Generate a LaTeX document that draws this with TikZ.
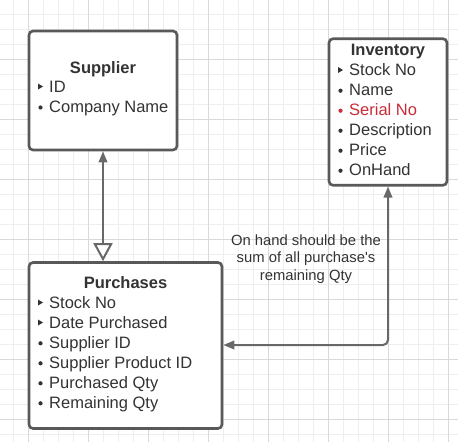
\documentclass[tikz,border=0pt]{standalone}
\usepackage{fontspec}
\setmainfont{Liberation Sans}
\usetikzlibrary{arrows.meta}
\definecolor{boxline}{HTML}{595959}
\definecolor{arrline}{HTML}{686868}
\definecolor{txt}{HTML}{333333}
\definecolor{redtxt}{HTML}{C92D39}
\definecolor{gridminor}{HTML}{EEEEEE}
\definecolor{gridmajor}{HTML}{D9D9D9}
\tikzset{
  entity/.style={draw=boxline, line width=2.6pt, rounded corners=4pt, fill=white, inner sep=0pt},
  title/.style={font=\fontsize{16.5}{20}\selectfont\bfseries, text=txt, anchor=base, inner sep=0pt},
  item/.style={font=\fontsize{16.5}{20}\selectfont, text=txt, anchor=base west, inner sep=0pt},
  keymark/.style={fill=txt, draw=none},
  dotmark/.style={fill=txt, draw=none},
  link/.style={draw=arrline, line width=2pt, rounded corners=5pt},
  note/.style={font=\fontsize{14.8}{17.8}\selectfont, text=txt, align=center, inner sep=0pt},
}
\begin{document}
\begin{tikzpicture}[x=1pt,y=-1pt]
\useasboundingbox (0,0) rectangle (458,442);
% grid
\foreach \i in {-2,13,...,458} \draw[gridminor, line width=0.8pt] (\i,0) -- (\i,442);
\foreach \j in {-1,14,...,442} \draw[gridminor, line width=0.8pt] (0,\j) -- (458,\j);
\foreach \i in {28,88,...,458} \draw[gridmajor, line width=0.8pt] (\i,0) -- (\i,442);
\foreach \j in {59,119,...,442} \draw[gridmajor, line width=0.8pt] (0,\j) -- (458,\j);

% boxes
\node[entity, minimum width=148pt, minimum height=119pt] (sup) at (103,90.5) {};
\node[entity, minimum width=118pt, minimum height=146.5pt] (inv) at (388,112) {};
\node[entity, minimum width=193pt, minimum height=166pt] (pur) at (125.5,345.5) {};

% Supplier text
\node[title] (supT) at (103,73) {Supplier};
\node[item] (supA) at (49,92.5) {ID};
\node[item] (supB) at (49,112.5) {Company Name};
\fill[keymark] (38,83.5) -- (43,86.5) -- (38,89.5) -- cycle;
\fill[dotmark] (40.5,107.5) circle (2.1pt);

% Inventory text
\node[title] (invT) at (388,55.7) {Inventory};
\node[item] (invA) at (349,75.7) {Stock No};
\node[item] (invB) at (349,95.7) {Name};
\node[item, text=redtxt] (invC) at (349,115.7) {Serial No};
\node[item] (invD) at (349,135.7) {Description};
\node[item] (invE) at (349,155.7) {Price};
\node[item] (invF) at (349,175.7) {OnHand};
\fill[keymark] (338,67) -- (343,70) -- (338,73) -- cycle;
\fill[dotmark] (340.5,90.7) circle (2.1pt);
\fill[redtxt] (340.5,110.7) circle (2.1pt);
\fill[dotmark] (340.5,130.7) circle (2.1pt);
\fill[dotmark] (340.5,150.7) circle (2.1pt);
\fill[dotmark] (340.5,170.7) circle (2.1pt);

% Purchases text
\node[title] (purT) at (125.5,288.3) {Purchases};
\node[item] (purA) at (49,308.3) {Stock No};
\node[item] (purB) at (49,328.3) {Date Purchased};
\node[item] (purC) at (49,348.3) {Supplier ID};
\node[item] (purD) at (49,368.3) {Supplier Product ID};
\node[item] (purE) at (49,388.3) {Purchased Qty};
\node[item] (purF) at (49,408.3) {Remaining Qty};
\fill[keymark] (38,299.5) -- (43,302.5) -- (38,305.5) -- cycle;
\fill[keymark] (38,319.5) -- (43,322.5) -- (38,325.5) -- cycle;
\fill[dotmark] (40.5,343.3) circle (2.1pt);
\fill[dotmark] (40.5,363.3) circle (2.1pt);
\fill[dotmark] (40.5,383.3) circle (2.1pt);
\fill[dotmark] (40.5,403.3) circle (2.1pt);

% connectors
\draw[link, {Triangle[length=11pt,width=8.5pt]}-{Triangle[open,length=18pt,width=19pt,fill=white]}]
  (sup.south -| 103,0) -- (pur.north -| 103,0);
\coordinate (bend) at (388,345);
\draw[link, {Triangle[length=11pt,width=8.5pt]}-{Triangle[length=11pt,width=8.5pt]}]
  (inv.south) -- (bend) -- (pur.east |- bend);

% note
\node[note] (lbl) at (306,259) {On hand should be the\\sum of all purchase\textquotesingle s\\remaining Qty};
\end{tikzpicture}
\end{document}
